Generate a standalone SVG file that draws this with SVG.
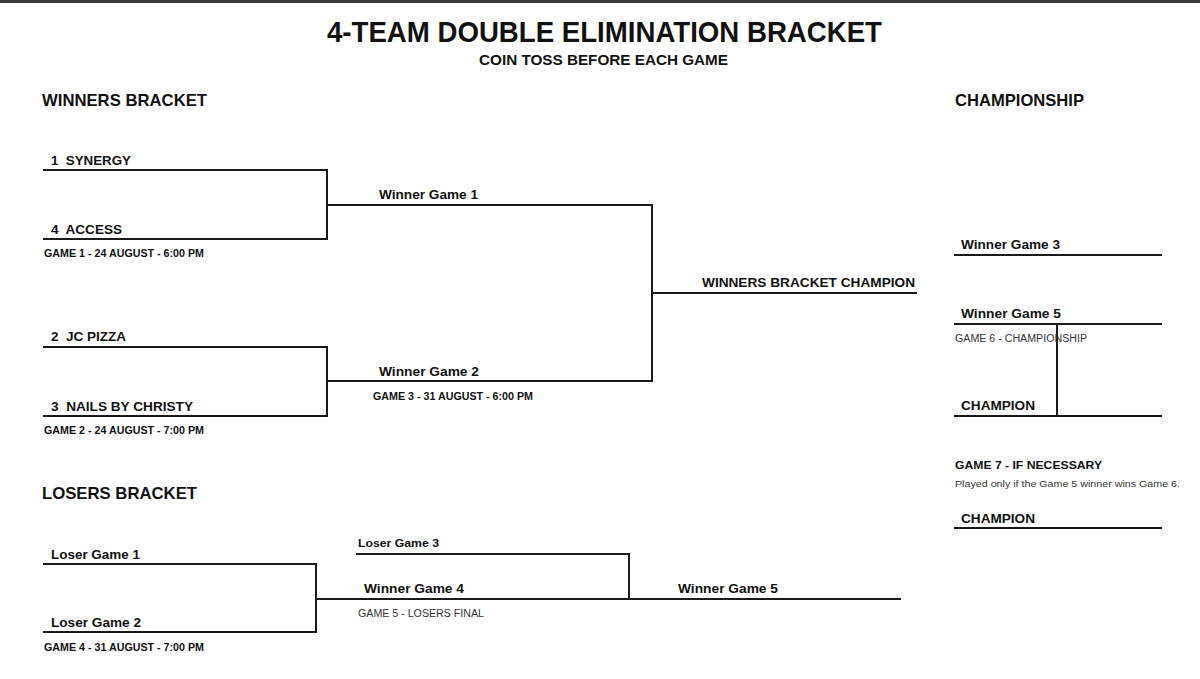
<svg xmlns="http://www.w3.org/2000/svg" width="1200" height="679" viewBox="0 0 1200 679">
<style>
  text { font-family: "Liberation Sans", Arial, sans-serif; fill: #111; white-space: pre; }
  .title { font-size: 30px; font-weight: bold; }
  .sub { font-size: 15px; font-weight: bold; }
  .head { font-size: 17px; font-weight: bold; }
  .slot { font-size: 13px; font-weight: bold; }
  .slot-sm { font-size: 11.5px; font-weight: bold; }
  .date { font-size: 10px; font-weight: bold; }
  .note { font-size: 10px; fill: #333; }
  .note-sm { font-size: 9.5px; fill: #333; }
  .ln { fill: none; stroke: #1a1a1a; stroke-width: 2; stroke-linecap: square; }
</style>
<rect x="0" y="0" width="1200" height="679" fill="#fff"/>
<rect x="0" y="0" width="1200" height="3" fill="#3a3a3a"/>

<g id="header">
  <text class="title" x="327" y="42" textLength="555" lengthAdjust="spacingAndGlyphs">4-TEAM DOUBLE ELIMINATION BRACKET</text>
  <text class="sub" x="479" y="65" textLength="249" lengthAdjust="spacingAndGlyphs">COIN TOSS BEFORE EACH GAME</text>
  <text class="head" x="42" y="106" textLength="165" lengthAdjust="spacingAndGlyphs">WINNERS BRACKET</text>
  <text class="head" x="955" y="106" textLength="129" lengthAdjust="spacingAndGlyphs">CHAMPIONSHIP</text>
  <text class="head" x="42" y="499" textLength="155" lengthAdjust="spacingAndGlyphs">LOSERS BRACKET</text>
</g>

<g id="connectors">
  <path class="ln" d="M44,170 H327 V239 H44"/>
  <path class="ln" d="M44,347 H327 V416 H44"/>
  <path class="ln" d="M327,205 H652 V381 H327"/>
  <path class="ln" d="M652,293 H916"/>
  <path class="ln" d="M955,255 H1161"/>
  <path class="ln" d="M955,324 H1161"/>
  <path class="ln" d="M1057,324 V416"/>
  <path class="ln" d="M955,416 H1161"/>
  <path class="ln" d="M955,528 H1161"/>
  <path class="ln" d="M44,564 H316 V632 H44"/>
  <path class="ln" d="M316,599 H900"/>
  <path class="ln" d="M357,554 H629 V599"/>
</g>

<g id="game1">
  <text class="slot" x="51" y="165" textLength="80" lengthAdjust="spacingAndGlyphs" xml:space="preserve">1  SYNERGY</text>
  <text class="slot" x="51" y="234" textLength="71" lengthAdjust="spacingAndGlyphs" xml:space="preserve">4  ACCESS</text>
  <text class="date" x="44" y="257" textLength="160" lengthAdjust="spacingAndGlyphs">GAME 1 - 24 AUGUST - 6:00 PM</text>
</g>
<g id="game2">
  <text class="slot" x="51" y="341" textLength="75" lengthAdjust="spacingAndGlyphs" xml:space="preserve">2  JC PIZZA</text>
  <text class="slot" x="51" y="411" textLength="142" lengthAdjust="spacingAndGlyphs" xml:space="preserve">3  NAILS BY CHRISTY</text>
  <text class="date" x="44" y="434" textLength="160" lengthAdjust="spacingAndGlyphs">GAME 2 - 24 AUGUST - 7:00 PM</text>
</g>
<g id="game3">
  <text class="slot" x="379" y="199" textLength="99" lengthAdjust="spacingAndGlyphs">Winner Game 1</text>
  <text class="slot" x="379" y="376" textLength="100" lengthAdjust="spacingAndGlyphs">Winner Game 2</text>
  <text class="date" x="373" y="400" textLength="160" lengthAdjust="spacingAndGlyphs">GAME 3 - 31 AUGUST - 6:00 PM</text>
</g>
<g id="winners-champion">
  <text class="slot" x="702" y="287" textLength="213" lengthAdjust="spacingAndGlyphs">WINNERS BRACKET CHAMPION</text>
</g>

<g id="game6">
  <text class="slot" x="961" y="249" textLength="99" lengthAdjust="spacingAndGlyphs">Winner Game 3</text>
  <text class="slot" x="961" y="318" textLength="100" lengthAdjust="spacingAndGlyphs">Winner Game 5</text>
  <text class="note" x="955" y="342" textLength="132" lengthAdjust="spacingAndGlyphs">GAME 6 - CHAMPIONSHIP</text>
  <text class="slot" x="961" y="410" textLength="74" lengthAdjust="spacingAndGlyphs">CHAMPION</text>
</g>
<g id="game7">
  <text class="slot-sm" x="955" y="469" textLength="147" lengthAdjust="spacingAndGlyphs">GAME 7 - IF NECESSARY</text>
  <text class="note-sm" x="955" y="487" textLength="225" lengthAdjust="spacingAndGlyphs">Played only if the Game 5 winner wins Game 6.</text>
  <text class="slot" x="961" y="523" textLength="74" lengthAdjust="spacingAndGlyphs">CHAMPION</text>
</g>

<g id="game4">
  <text class="slot" x="51" y="559" textLength="89" lengthAdjust="spacingAndGlyphs">Loser Game 1</text>
  <text class="slot" x="51" y="627" textLength="90" lengthAdjust="spacingAndGlyphs">Loser Game 2</text>
  <text class="date" x="44" y="651" textLength="160" lengthAdjust="spacingAndGlyphs">GAME 4 - 31 AUGUST - 7:00 PM</text>
</g>
<g id="game5">
  <text class="slot-sm" x="358" y="547" textLength="81" lengthAdjust="spacingAndGlyphs">Loser Game 3</text>
  <text class="slot" x="364" y="593" textLength="100" lengthAdjust="spacingAndGlyphs">Winner Game 4</text>
  <text class="note" x="358" y="617" textLength="126" lengthAdjust="spacingAndGlyphs">GAME 5 - LOSERS FINAL</text>
</g>
<g id="losers-winner">
  <text class="slot" x="678" y="593" textLength="100" lengthAdjust="spacingAndGlyphs">Winner Game 5</text>
</g>
</svg>
